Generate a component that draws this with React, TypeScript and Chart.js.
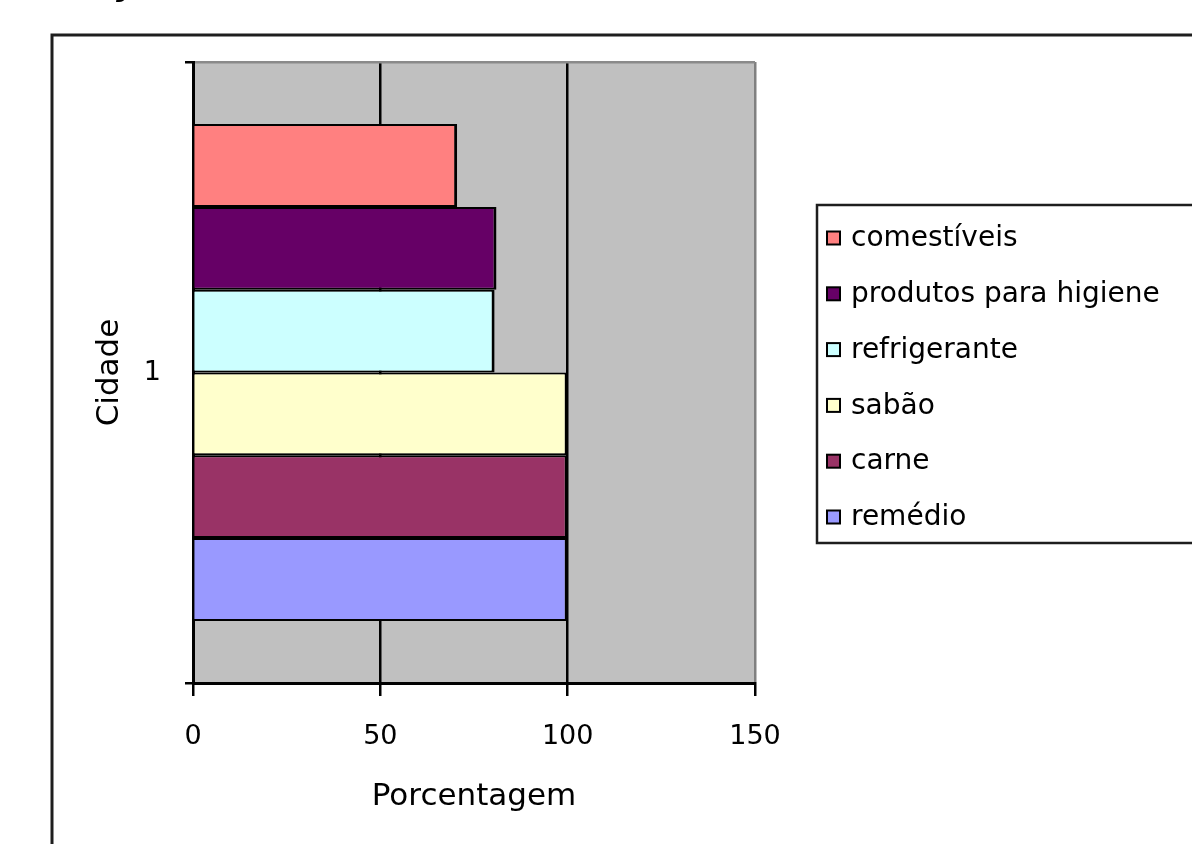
import React, { useEffect, useRef } from "react";
import { Chart, registerables } from "chart.js";

Chart.register(...registerables);

const categories = ["1"];
const seriesNames = [
  "comestíveis",
  "produtos para higiene",
  "refrigerante",
  "sabão",
  "carne",
  "remédio",
];
const seriesValues = [70.5, 81, 80.5, 100, 100, 100];
const seriesColors = ["#FF8080", "#660066", "#CCFFFF", "#FFFFCC", "#993366", "#9999FF"];
const legendLabels = [
  "comestíveis",
  "produtos para higiene",
  "refrigerante",
  "sabão",
  "carne",
  "remédio",
];
const xTicks = [0, 50, 100, 150];
const xTitle = "Porcentagem";
const yTitle = "Cidade";

const FONT = "'DejaVu Sans', 'Liberation Sans', Arial, sans-serif";

// Page frame and grey plot background, painted under everything else
const backdropPlugin = {
  id: "backdrop",
  beforeDraw(chart: any) {
    const { ctx, chartArea, width, height } = chart;
    ctx.save();
    ctx.fillStyle = "#ffffff";
    ctx.fillRect(0, 0, width, height);

    // clipped heading glyph above the frame
    ctx.fillStyle = "#000";
    ctx.font = `bold italic 30px ${FONT}`;
    ctx.textBaseline = "alphabetic";
    ctx.fillText("y", 116, -4);

    ctx.strokeStyle = "#1e1e1e";
    ctx.lineWidth = 3;
    ctx.beginPath();
    ctx.moveTo(52, height + 5);
    ctx.lineTo(52, 35);
    ctx.lineTo(width + 5, 35);
    ctx.stroke();

    ctx.fillStyle = "#C0C0C0";
    ctx.fillRect(
      chartArea.left,
      chartArea.top,
      chartArea.right - chartArea.left,
      chartArea.bottom - chartArea.top
    );
    ctx.restore();
  },
};

// Boxed legend to the right of the plot, built from the datasets
const boxLegendPlugin = {
  id: "boxLegend",
  afterDraw(chart: any) {
    const { ctx, width } = chart;
    const boxLeft = 817;
    const boxTop = 205;
    const boxBottom = 543;
    ctx.save();
    ctx.fillStyle = "#ffffff";
    ctx.fillRect(boxLeft, boxTop, width - boxLeft + 10, boxBottom - boxTop);
    ctx.strokeStyle = "#1e1e1e";
    ctx.lineWidth = 2.5;
    ctx.strokeRect(boxLeft, boxTop, width - boxLeft + 10, boxBottom - boxTop);

    const first = 238;
    const step = 55.8;
    ctx.font = `28px ${FONT}`;
    ctx.textBaseline = "middle";
    ctx.textAlign = "left";
    chart.data.datasets.forEach((ds: any, i: number) => {
      const cy = first + i * step;
      ctx.fillStyle = ds.backgroundColor;
      ctx.fillRect(827, cy - 6.5, 13, 13);
      ctx.strokeStyle = "#000";
      ctx.lineWidth = 2;
      ctx.strokeRect(827, cy - 6.5, 13, 13);
      ctx.fillStyle = "#000";
      ctx.fillText(legendLabels[i], 851, cy + 1);
    });
    ctx.restore();
  },
};

export default function App() {
  const canvasRef = useRef<HTMLCanvasElement | null>(null);

  useEffect(() => {
    if (!canvasRef.current) return;
    const chart = new Chart(canvasRef.current, {
      type: "bar",
      data: {
        labels: categories,
        datasets: seriesNames.map((name, i) => ({
          label: name,
          data: [seriesValues[i]],
          backgroundColor: seriesColors[i],
          borderColor: "#000",
          borderWidth: { top: 2, right: 3, bottom: 2, left: 0 },
          borderSkipped: false,
          barPercentage: 1,
          categoryPercentage: 0.8,
        })),
      },
      options: {
        indexAxis: "y",
        responsive: false,
        animation: false,
        devicePixelRatio: 1,
        layout: { padding: { left: 0, top: 62, right: 437, bottom: 0 } },
        plugins: {
          legend: { display: false },
          tooltip: { enabled: false },
        },
        scales: {
          x: {
            type: "linear",
            min: 0,
            max: 150,
            afterBuildTicks: (scale: any) => {
              scale.ticks = xTicks.map((v) => ({ value: v }));
            },
            afterFit: (scale: any) => {
              scale.height = 161;
            },
            grid: {
              color: (c: any) => (c.tick && c.tick.value === 150 ? "#808080" : "#000"),
              lineWidth: 2.5,
              tickColor: "#000",
              tickLength: 13,
              tickWidth: 2.5,
            },
            border: { display: true, color: "#000", width: 3 },
            ticks: {
              color: "#000",
              padding: 25,
              font: { family: FONT, size: 27 },
              maxRotation: 0,
            },
            title: {
              display: true,
              text: xTitle,
              color: "#000",
              font: { family: FONT, size: 31 },
              padding: { top: 0, bottom: 28 },
            },
          },
          y: {
            type: "category",
            afterFit: (scale: any) => {
              scale.width = 193;
            },
            grid: {
              offset: true,
              color: (c: any) => (c.type === "tick" ? "#8a8a8a" : "#000"),
              lineWidth: 2.5,
              tickColor: "#000",
              tickLength: 8,
              tickWidth: 2.5,
            },
            border: { display: true, color: "#000", width: 3 },
            ticks: {
              color: "#000",
              padding: 24,
              font: { family: FONT, size: 27 },
            },
            title: {
              display: true,
              text: yTitle,
              color: "#000",
              font: { family: FONT, size: 31 },
              padding: { top: 91, bottom: 0 },
            },
          },
        },
      },
      plugins: [backdropPlugin, boxLegendPlugin],
    } as any);
    return () => chart.destroy();
  }, []);

  return (
    <div style={{ position: "fixed", left: 0, top: 0, width: 1192, height: 844, background: "#fff" }}>
      <canvas ref={canvasRef} width={1192} height={844} style={{ display: "block" }} />
    </div>
  );
}
